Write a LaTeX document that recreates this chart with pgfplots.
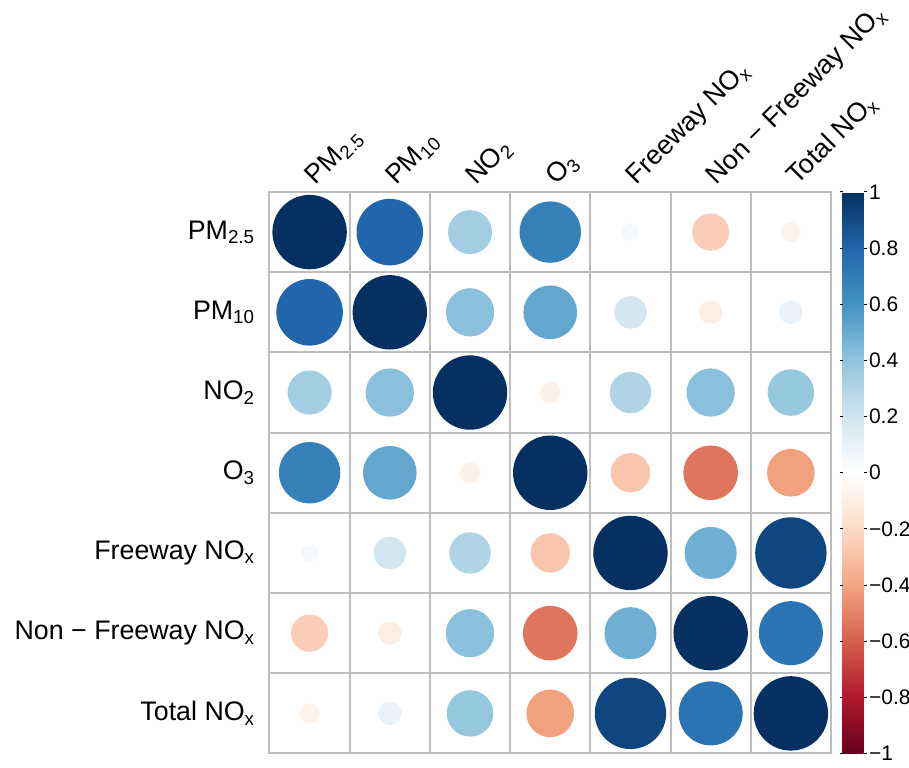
\documentclass[border=0pt]{standalone}
\usepackage{fontspec}
\setmainfont{Liberation Sans}
\usepackage{pgfplots}
\usepackage{pgfplotstable}
\pgfplotsset{compat=1.18}
\definecolor{gridgray}{HTML}{BEBEBE}
\pgfplotsset{colormap={rdbu}{
 rgb255=(103,0,31) rgb255=(178,24,43) rgb255=(214,96,77) rgb255=(244,165,130)
 rgb255=(253,219,199) rgb255=(255,255,255) rgb255=(209,229,240) rgb255=(146,197,222)
 rgb255=(67,147,195) rgb255=(33,102,172) rgb255=(5,48,97)}}
\pgfplotstableread{
x y r
1 1 1
2 1 0.80
3 1 0.35
4 1 0.68
5 1 0.05
6 1 -0.25
7 1 -0.07
1 2 0.80
2 2 1
3 2 0.42
4 2 0.52
5 2 0.19
6 2 -0.10
7 2 0.10
1 3 0.35
2 3 0.42
3 3 1
4 3 -0.08
5 3 0.31
6 3 0.42
7 3 0.39
1 4 0.68
2 4 0.52
3 4 -0.08
4 4 1
5 4 -0.28
6 4 -0.54
7 4 -0.41
1 5 0.05
2 5 0.19
3 5 0.31
4 5 -0.28
5 5 1
6 5 0.49
7 5 0.92
1 6 -0.25
2 6 -0.10
3 6 0.42
4 6 -0.54
5 6 0.49
6 6 1
7 6 0.74
1 7 -0.07
2 7 0.10
3 7 0.39
4 7 -0.41
5 7 0.92
6 7 0.74
7 7 1
}\corr
\begin{document}
\begin{tikzpicture}
\begin{axis}[
  scale only axis,
  width=280.75pt, height=280.75pt,
  xmin=0.5, xmax=7.5, ymin=0.5, ymax=7.5,
  y dir=reverse,
  colormap name=rdbu,
  point meta min=-1, point meta max=1,
  axis line style={draw=gridgray, line width=1pt},
  xtick={1,...,7}, ytick={1,...,7},
  major tick length=0pt,
  minor xtick={1.5,2.5,...,6.5}, minor ytick={1.5,2.5,...,6.5},
  minor tick length=0pt,
  grid=minor,
  minor grid style={draw=gridgray, line width=1pt},
  xticklabel pos=upper,
  xticklabels={PM\textsubscript{2.5}, PM\textsubscript{10}, NO\textsubscript{2}, O\textsubscript{3}, Freeway NO\textsubscript{x}, Non − Freeway NO\textsubscript{x}, Total NO\textsubscript{x}},
  yticklabels={PM\textsubscript{2.5}, PM\textsubscript{10}, NO\textsubscript{2}, O\textsubscript{3}, Freeway NO\textsubscript{x}, Non − Freeway NO\textsubscript{x}, Total NO\textsubscript{x}},
  xticklabel style={xshift=3pt, yshift=3pt, rotate=45, anchor=base west, inner sep=0pt, font=\fontsize{13.4}{15}\selectfont},
  yticklabel style={anchor=east, inner sep=0pt, xshift=-7pt, font=\fontsize{13.4}{15}\selectfont},
  colorbar,
  colorbar style={
    at={(parent axis.north east)}, anchor=north west, xshift=-2.7pt,
    width=10.5pt,
    y dir=normal,
    ymin=-1, ymax=1,
    ytick={-1,-0.8,-0.6,-0.4,-0.2,0,0.2,0.4,0.6,0.8,1},
    yticklabels={−1,−0.8,−0.6,−0.4,−0.2,0,0.2,0.4,0.6,0.8,1},
    yticklabel pos=right,
    yticklabel style={font=\fontsize{10.5}{12}\selectfont, inner sep=1pt, anchor=west},
    axis line style={draw=none},
    major tick length=1.5pt,
    tick align=outside,
    ytick style={black, line width=0.5pt},
  },
]
\addplot[
  scatter, only marks, mark=*,
  point meta=explicit,
  scatter/use mapped color={draw opacity=0, fill=mapped color},
  visualization depends on={18.6*sqrt(abs(\thisrow{r})) \as \rad},
  scatter/@pre marker code/.append style={/tikz/mark size=\rad},
] table[x=x, y=y, meta=r] {\corr};
\coordinate (TL) at (axis cs:0.5,0.5);
\coordinate (BR) at (axis cs:7.5,7.5);
\end{axis}
\pgfresetboundingbox
\path[use as bounding box] ([xshift=-134.75pt, yshift=96pt]TL) rectangle ([xshift=39pt, yshift=-7pt]BR);
\end{tikzpicture}
\end{document}
